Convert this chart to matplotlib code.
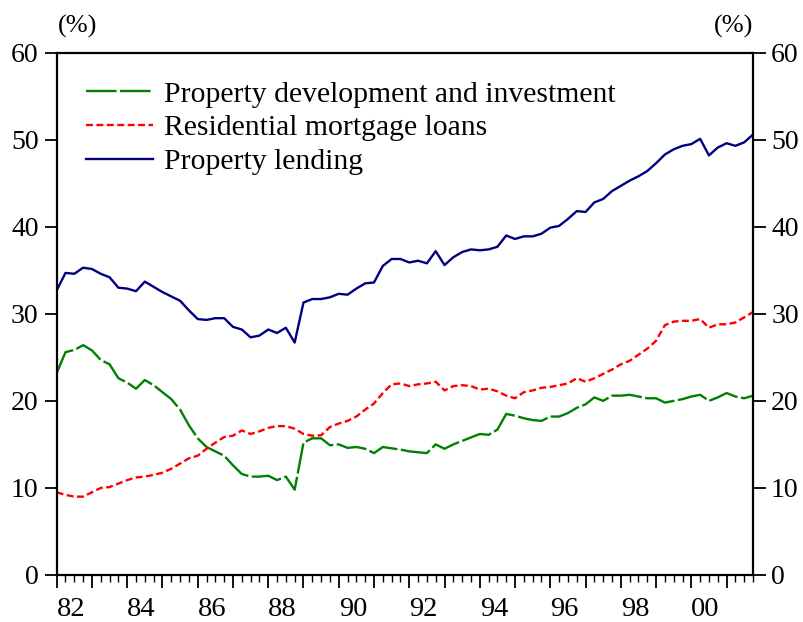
import numpy as np
import matplotlib
matplotlib.use("Agg")
import matplotlib.pyplot as plt

plt.rcParams['font.family'] = ['Liberation Serif', 'DejaVu Serif']
plt.rcParams['lines.scale_dashes'] = False

# quarterly data, 1982Q1 - 2001Q4
start_year = 1982
years_lbl = ['82', '84', '86', '88', '90', '92', '94', '96', '98', '00']

property_lending = [
    32.7, 34.7, 34.6, 35.3, 35.15, 34.6, 34.2, 33.0, 32.9, 32.6,
    33.7, 33.1, 32.5, 32.0, 31.5, 30.4, 29.4, 29.3, 29.5, 29.5,
    28.5, 28.2, 27.3, 27.5, 28.2, 27.8, 28.4, 26.7, 31.3, 31.7,
    31.7, 31.9, 32.3, 32.2, 32.9, 33.5, 33.6, 35.5, 36.3, 36.3,
    35.9, 36.1, 35.8, 37.2, 35.6, 36.5, 37.1, 37.4, 37.3, 37.4,
    37.7, 39.0, 38.6, 38.9, 38.9, 39.2, 39.9, 40.1, 40.9, 41.8,
    41.7, 42.8, 43.2, 44.1, 44.7, 45.3, 45.8, 46.4, 47.3, 48.3,
    48.9, 49.3, 49.5, 50.1, 48.2, 49.1, 49.6, 49.3, 49.7, 50.6,
]

residential_mortgage = [
    9.5, 9.2, 9.0, 9.0, 9.5, 10.0, 10.1, 10.5, 10.9, 11.2,
    11.3, 11.5, 11.75, 12.2, 12.8, 13.4, 13.7, 14.5, 15.2, 15.85,
    16.0, 16.6, 16.2, 16.5, 16.9, 17.1, 17.1, 16.8, 16.2, 16.0,
    16.05, 17.0, 17.4, 17.7, 18.2, 19.0, 19.7, 20.9, 21.9, 22.0,
    21.7, 21.9, 22.0, 22.2, 21.2, 21.7, 21.8, 21.7, 21.3, 21.4,
    21.1, 20.6, 20.3, 21.0, 21.2, 21.5, 21.6, 21.8, 22.0, 22.6,
    22.2, 22.6, 23.1, 23.6, 24.2, 24.6, 25.3, 26.0, 26.9, 28.7,
    29.1, 29.2, 29.2, 29.4, 28.4, 28.8, 28.8, 29.0, 29.6, 30.2,
]

property_development = [
    23.2, 25.6, 25.85, 26.4, 25.8, 24.7, 24.2, 22.6, 22.1, 21.4,
    22.4, 21.8, 21.0, 20.2, 19.0, 17.2, 15.7, 14.7, 14.2, 13.7,
    12.6, 11.6, 11.3, 11.3, 11.4, 10.9, 11.3, 9.8, 15.2, 15.7,
    15.7, 14.9, 15.0, 14.6, 14.7, 14.5, 14.0, 14.7, 14.55, 14.4,
    14.2, 14.1, 14.0, 15.0, 14.5, 15.0, 15.4, 15.8, 16.2, 16.1,
    16.7, 18.5, 18.3, 18.0, 17.8, 17.7, 18.2, 18.2, 18.6, 19.2,
    19.6, 20.4, 20.0, 20.6, 20.6, 20.7, 20.5, 20.3, 20.3, 19.8,
    20.0, 20.2, 20.5, 20.7, 20.0, 20.4, 20.9, 20.5, 20.3, 20.6,
]

x = np.arange(len(property_lending))

fig = plt.figure(figsize=(8.04, 6.22), dpi=100)
ax = fig.add_axes([0.0705, 0.0756, 0.8661, 0.8397])

ax.plot(x, property_development, color='#008000', lw=1.7, dashes=(22, 2.5),
        label='Property development and investment')
ax.plot(x, residential_mortgage, color='#ff0000', lw=1.7, dashes=(5, 2.5),
        label='Residential mortgage loans')
ax.plot(x, property_lending, color='#000080', lw=1.7,
        label='Property lending')

ax.set_xlim(0, len(x) - 1)
ax.set_ylim(0, 60)

# x ticks: year ticks (major), quarters (minor), label every 2nd year
year_pos = np.arange(0, len(x), 4)
ax.set_xticks(year_pos)
ax.set_xticklabels([years_lbl[i // 2] if i % 2 == 0 else '' for i in range(len(year_pos))],
                   ha='left', fontsize=20.5)
ax.set_xticks(x, minor=True)
ax.tick_params(axis='x', which='major', direction='out', length=9, width=1.3, pad=7)
ax.tick_params(axis='x', which='minor', direction='out', length=5, width=1.0)

ax.set_yticks(np.arange(0, 61, 10))
ax.tick_params(axis='y', which='major', direction='out', length=9, width=1.3,
               labelsize=20, left=True, right=True, labelleft=True, labelright=True, pad=4)

for s in ax.spines.values():
    s.set_linewidth(1.6)

fig.text(0.097, 0.958, '(%)', ha='center', va='center', fontsize=19)
fig.text(0.912, 0.958, '(%)', ha='center', va='center', fontsize=19)

ax.legend(loc='upper left', bbox_to_anchor=(0.042, 0.946), frameon=False,
          fontsize=21.4, handlelength=2.25, handletextpad=0.38, labelspacing=0.23,
          borderpad=0, borderaxespad=0)

plt.savefig('out.png', dpi=100)
